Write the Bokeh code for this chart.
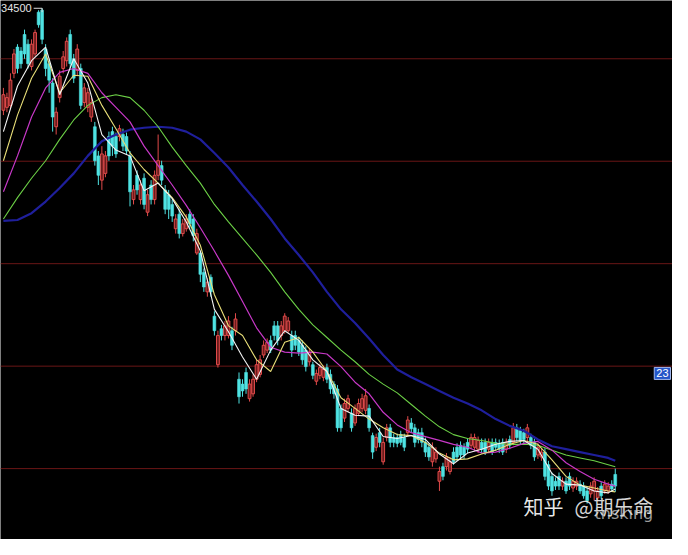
import numpy as np
from bokeh.plotting import figure
from bokeh.models import Range1d, Span, Label, ColumnDataSource
from bokeh.embed import file_html
from bokeh.resources import INLINE

# ---------------- data ----------------
opens = [31350,31440,31500,32490,33300,33180,33690,33390,32700,33090,
         34380,34440,33240,32790,32190,30840,31740,32640,32880,33690,
         32940,32580,32640,31590,31440,31140,30840,29940,29190,29400,
         30540,30690,30540,30540,30600,30540,29940,28590,29340,28590,
         29250,28200,29040,28590,29340,29640,28890,28740,28440,27690,
         28140,27540,27690,28140,27990,26940,26940,26340,25740,26190,
         24990,23490,24600,24390,24390,24540,24540,23040,22890,23250,
         22440,22590,23040,23190,23790,23940,24240,24690,24690,24390,
         24540,24540,24390,24390,24240,24090,23940,23580,23490,22980,
         23160,23100,23400,23190,22890,22740,22140,21840,22140,21990,
         21690,21990,22140,22080,22140,21300,20940,21390,20490,21240,
         21540,21240,21240,21330,21240,21390,21690,21540,21390,21390,
         21090,20940,20490,20580,19890,20340,20340,20190,20790,20940,
         21000,20940,21090,21000,20940,20880,21090,21090,20880,21090,
         21090,21060,21090,20880,21180,21090,21540,21450,21390,21240,
         21240,21090,20700,20640,20790,20400,20040,19890,20040,19740,
         19890,20040,19680,19740,19800,19740,19590,19500,19590,19380,
         19740,19590,19590,19800,20100]
closes = [31830,31740,32280,33090,32640,32790,33090,32790,33390,33750,
          33990,33540,32640,32280,31140,31290,32400,33000,33480,32790,
          32340,33240,31500,32040,31890,31590,29790,29340,30000,29940,
          29940,30240,30000,30780,30240,30090,28830,28890,28890,29040,
          28440,28740,28590,29340,29790,29190,28290,28290,28080,27990,
          27540,27840,27990,27840,27480,27540,26280,25890,26040,25740,
          24540,24390,24390,24690,24840,24090,24900,22500,22680,22740,
          22890,23040,23490,23640,24090,24180,23940,24390,24240,24690,
          24990,24840,23940,24090,23880,23640,23430,23880,23160,23220,
          23400,23340,23040,22740,22590,21540,21540,22290,22440,21540,
          22140,22290,22440,22530,21540,20790,21240,21090,21090,21540,
          21090,21090,21060,21090,20940,21780,21510,21090,21180,21090,
          20790,20640,20940,20790,20190,20040,20640,20490,20490,20640,
          20700,20700,20880,21240,21240,21150,20880,20790,21090,20790,
          20940,20880,20790,21090,21000,21540,21240,21150,21180,21540,
          21000,20640,20940,20790,20040,19740,19590,19740,19740,19890,
          19590,19740,19890,19890,19590,19440,19290,19740,19890,19590,
          19440,19800,19740,19650,19740]
highs = [32040,31890,32490,33240,33390,33300,33840,33540,33540,33840,
         34440,34500,33390,32940,32340,31440,32580,33180,33600,33840,
         33090,33390,32790,32190,32040,31740,30990,30090,30240,30090,
         30690,30840,30660,30900,30780,30660,30090,29040,29490,29190,
         29400,28890,29190,29490,30600,29790,29040,28890,28590,28140,
         28290,27990,28140,28290,28140,27690,27000,26460,26160,26280,
         25140,24540,24720,24840,24990,24660,25080,23250,23040,23400,
         23040,23190,23640,23790,24240,24300,24390,24840,24840,24840,
         25080,24960,24540,24540,24360,24240,24060,24000,23580,23340,
         23520,23460,23520,23340,22980,22860,22260,22440,22560,22140,
         22260,22440,22590,22740,22260,21390,21360,21540,21240,21660,
         21660,21360,21360,21450,21360,21900,21840,21660,21510,21540,
         21240,21060,21090,20940,20340,20460,20760,20640,20940,21060,
         21120,21060,21210,21360,21360,21270,21210,21210,21210,21210,
         21210,21180,21210,21210,21300,21690,21660,21570,21510,21660,
         21360,21210,21060,20910,20910,20520,20160,20010,20160,20010,
         20010,20160,20010,20010,19920,19860,19710,19860,20010,19710,
         19860,19920,19860,19920,20280]
lows = [31200,31290,31380,32340,32490,32640,32940,32640,32580,33000,
        33900,33390,32400,31890,30690,30600,31590,32490,32700,32640,
        32190,32400,31380,31440,31290,30990,29640,29040,28890,29280,
        29790,29940,29880,30390,30090,30000,28380,28440,28740,28440,
        28290,28080,28440,28440,29190,29040,28140,27990,27900,27540,
        27390,27450,27600,27690,27300,26880,26040,25740,25590,25590,
        24390,23400,24240,24240,24300,23940,24390,22290,22500,22590,
        22350,22500,22950,23100,23700,23850,23850,24240,24090,24240,
        24450,24480,23730,23940,23760,23490,23280,23460,23040,22860,
        23040,22980,22920,22590,22440,21420,21420,21720,22020,21420,
        21600,21900,22020,21960,21420,20580,20820,20940,20400,21120,
        20940,20940,20940,21000,20820,21300,21390,20940,21060,20940,
        20640,20520,20340,20460,19590,19920,20220,20100,20400,20520,
        20580,20580,20760,20880,20820,20760,20760,20700,20760,20700,
        20820,20760,20700,20760,20880,21000,21120,21030,21060,21120,
        20880,20520,20580,20520,19920,19620,19440,19620,19620,19620,
        19500,19620,19560,19620,19500,19350,19200,19380,19290,19290,
        19350,19500,19500,19560,19560]

# moving averages, read at every 4th bar
ma_idx = [0,4,8,12,16,20,24,28,32,36,40,44,48,52,56,60,64,68,72,76,80,84,
          88,92,96,100,104,108,112,116,120,124,128,132,136,140,144,148,152,
          156,160,164,168,172,174]
ma5 = [30690,32100,32880,33300,31830,32940,32190,30600,30120,29940,28860,29100,
       28620,27900,27000,25200,24510,23730,23040,23940,24540,24240,23640,23280,
       22140,21930,21900,21270,21210,21300,21180,20730,20430,20760,20880,21030,
       21120,21150,20880,20130,19800,19770,19590,19530,19650]
ma10 = [29790,31200,32340,33090,31890,32430,32400,31500,30780,30030,29520,29100,
        28650,28050,27180,25650,24690,24390,23640,23280,24180,24330,23880,23280,
        22470,22140,21810,21540,21330,21300,21090,20760,20550,20580,20730,20850,
        21030,21150,21030,20550,20040,19770,19680,19590,19560]
ma20 = [28830,29940,31140,32040,32520,32640,32490,31890,31440,30990,30240,29640,
        29040,28410,27720,27000,26250,25440,24630,24030,23880,23850,23880,23820,
        23430,22950,22590,22020,21630,21390,21270,21150,21030,20940,20760,20790,
        20910,21060,21120,20850,20460,20190,19950,19800,19740]
ma60 = [27990,28650,29250,29790,30450,31050,31500,31740,31830,31740,31350,30840,
        30210,29640,29100,28440,27900,27390,26880,26340,25740,25200,24720,24330,
        23940,23580,23190,22890,22620,22260,21900,21570,21330,21210,21150,21060,
        21030,21030,21000,20850,20700,20610,20520,20400,20340]
ma120 = [27930,27960,28170,28530,28950,29400,29940,30390,30600,30750,30810,30840,
         30810,30690,30450,30030,29580,29040,28530,27990,27390,26880,26340,25740,
         25200,24780,24300,23790,23340,23100,22890,22680,22470,22290,22080,21810,
         21600,21450,21180,20970,20880,20790,20700,20610,20520]

grid_levels = [32940, 29775, 26610, 23445, 20280]
cursor_text = "23"          # the only part of the price box that shows
cursor_price = 23220

# ---------------- figure ----------------
W, H = 672, 539
p = figure(width=W, height=H, output_backend="svg", toolbar_location=None,
           x_range=Range1d(-0.83, 190.28), y_range=Range1d(18090, 34740),
           x_axis_location=None, y_axis_location=None,
           background_fill_color="black", border_fill_color="black",
           min_border=0, outline_line_color=None)
p.grid.visible = False

for g in grid_levels:
    p.add_layout(Span(location=g, dimension="width", line_color="#6a1616",
                      line_width=1, level="underlay"))

o = np.array(opens); c = np.array(closes)
hi = np.array(highs); lo = np.array(lows)
idx = np.arange(len(o))
up = c >= o
RED, CYAN = "#e04a4a", "#4fe3e3"

src_up = ColumnDataSource(dict(x=idx[up], h=hi[up], l=lo[up], t=c[up], b=o[up]))
src_dn = ColumnDataSource(dict(x=idx[~up], h=hi[~up], l=lo[~up], t=o[~up], b=c[~up]))

p.segment(x0="x", y0="h", x1="x", y1="l", source=src_up, line_color=RED, line_width=1)
p.vbar(x="x", width=0.8, top="t", bottom="b", source=src_up,
       fill_color="#6a1c1c", line_color=RED, line_width=1)
p.segment(x0="x", y0="h", x1="x", y1="l", source=src_dn, line_color=CYAN, line_width=1)
p.vbar(x="x", width=0.8, top="t", bottom="b", source=src_dn,
       fill_color=CYAN, line_color=CYAN, line_width=0.6)

# moving averages
p.line(ma_idx, ma120, line_color="#1f1f9c", line_width=2.2)
p.line(ma_idx, ma60, line_color="#6cd046", line_width=1.1)
p.line(ma_idx, ma20, line_color="#c838c8", line_width=1.2)
p.line(ma_idx, ma10, line_color="#e8de78", line_width=1.1)
p.line(ma_idx, ma5, line_color="#f4f4f4", line_width=1.1)

# highest-price marker
pk = int(np.argmax(hi))
p.segment(x0=[pk - 2.4], y0=[hi[pk]], x1=[pk], y1=[hi[pk]], line_color="#dddddd", line_width=1)
p.segment(x0=[pk], y0=[hi[pk]], x1=[pk], y1=[hi[pk] - 120], line_color="#dddddd", line_width=1)
p.add_layout(Label(x=pk, y=hi[pk], x_offset=-41, text=f"{hi[pk]}",
                   text_font="Liberation Sans", text_font_size="11px",
                   text_color="#e6e6e6", text_baseline="middle", text_align="left"))

# cursor price box at the right edge
p.add_layout(Label(x=670, x_units="screen", y=cursor_price, text=cursor_text,
                   text_font="Liberation Sans", text_font_size="11px",
                   text_color="white", text_baseline="middle", text_align="right",
                   background_fill_color="#2456c8", border_line_color="#9fb6ee",
                   padding=2))

# watermark
p.add_layout(Label(x=523, y=33, x_units="screen", y_units="screen", text="知乎",
                   text_font="Noto Sans CJK SC", text_font_size="20px",
                   text_color="white", text_alpha=0.92, text_baseline="middle"))
p.add_layout(Label(x=574, y=33, x_units="screen", y_units="screen", text="@期乐命",
                   text_font="Noto Sans CJK SC", text_font_size="20px",
                   text_color="white", text_alpha=0.85, text_baseline="middle"))
p.add_layout(Label(x=594, y=26, x_units="screen", y_units="screen", text="tnsking",
                   text_font="DejaVu Sans", text_font_size="16px",
                   text_color="#cfcfcf", text_alpha=0.75, text_baseline="middle"))

html = file_html(p, INLINE)
html = html.replace("<body>", '<body style="background:#000000;">', 1)
open("out.html", "w").write(html)
